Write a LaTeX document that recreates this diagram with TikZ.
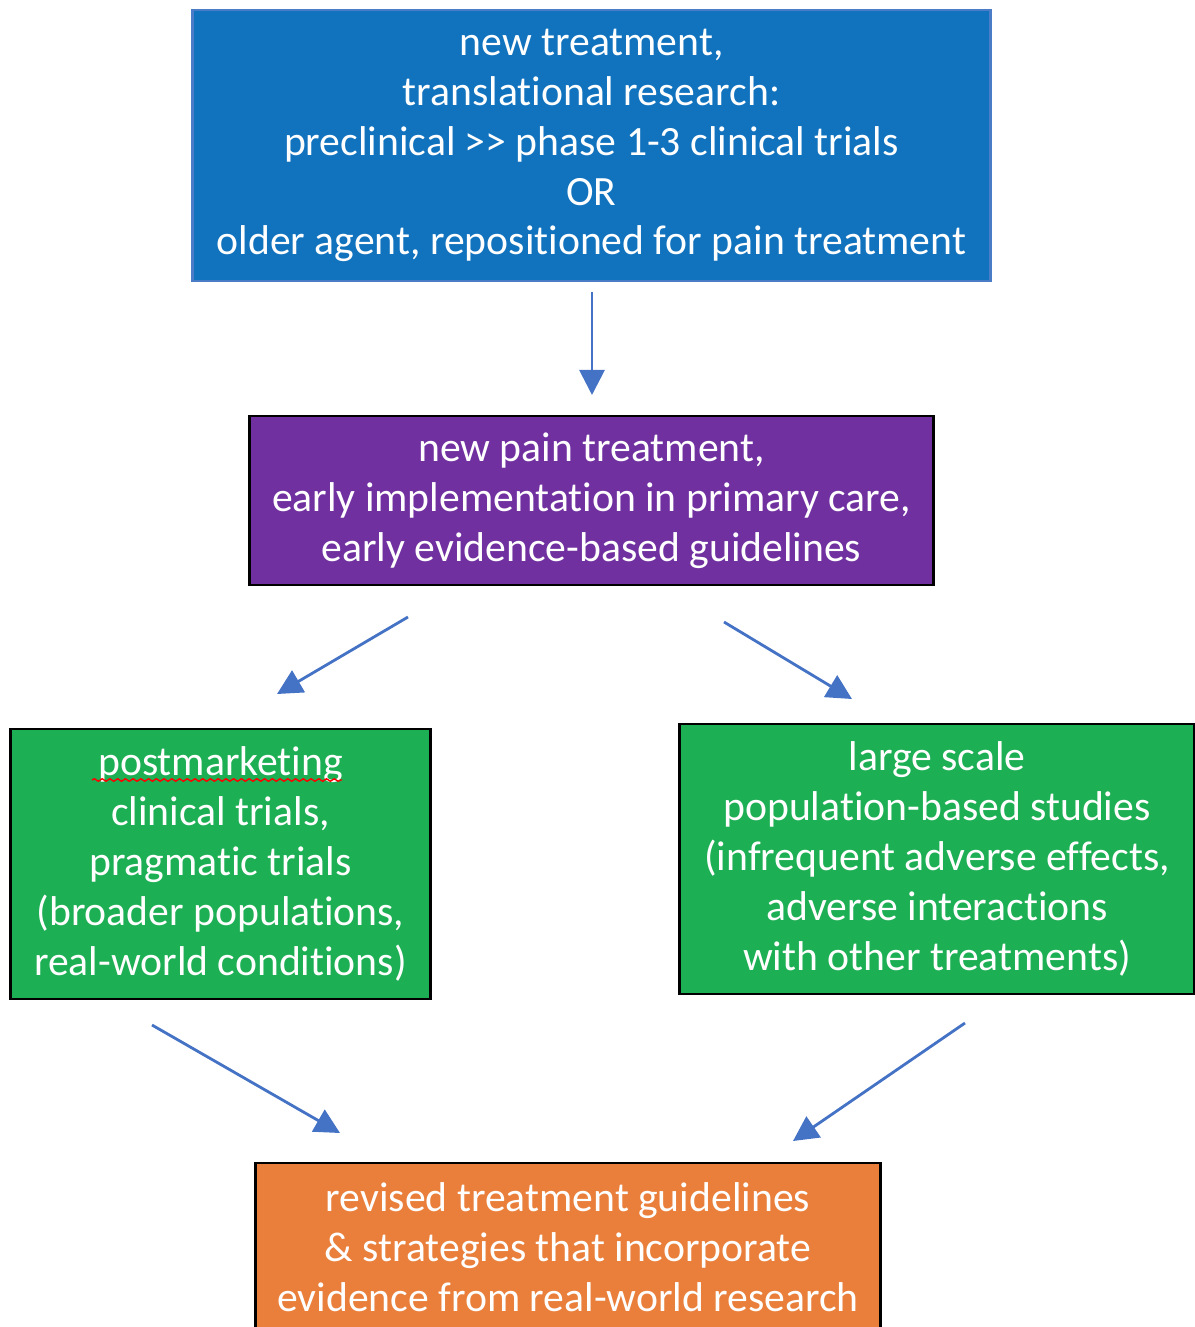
\documentclass[tikz,border=0pt]{standalone}
\usepackage{fontspec}
\setmainfont{Carlito}[Ligatures={NoCommon,NoContextual,NoRequired},RawFeature={-liga;-clig;-calt}]
\usetikzlibrary{arrows.meta,decorations.pathmorphing}
\definecolor{topblue}{HTML}{1172BE}
\definecolor{edgeblue}{HTML}{4A7CC8}
\definecolor{midpurple}{HTML}{7030A0}
\definecolor{studygreen}{HTML}{1DAF54}
\definecolor{endorange}{HTML}{E97F3B}
\definecolor{arrblue}{HTML}{4472C4}
\begin{document}
\begin{tikzpicture}[x=0.01cm,y=-0.01cm,
  box/.style={draw=black,line width=0.8pt,text=white,align=center,inner sep=0pt,
    font=\fontsize{11.85}{14.2}\selectfont},
  arr/.style={-{Triangle[length=0.25cm,width=0.25cm]},line width=0.8pt,arrblue}]
\useasboundingbox (0,0) rectangle (1195,1327);
% boxes
\path (591.5,145.5) node[box,draw=edgeblue,fill=topblue,minimum width=7.97cm,minimum height=2.71cm] (treat)
  {new treatment,\\translational research:\\preclinical >{}> phase 1-3 clinical trials\\OR\\older agent, repositioned for pain treatment};
\path (591.5,500.5) node[box,fill=midpurple,minimum width=6.83cm,minimum height=1.69cm] (early)
  {new pain treatment,\\early implementation in primary care,\\early evidence-based guidelines};
\path (220.5,864) node[box,fill=studygreen,minimum width=4.19cm,minimum height=2.7cm] (postmk)
  {postmarketing\\clinical trials,\\pragmatic trials\\(broader populations,\\real-world conditions)};
\path (937,859) node[box,fill=studygreen,minimum width=5.14cm,minimum height=2.7cm] (popstudy)
  {large scale\\population-based studies\\(infrequent adverse effects,\\adverse interactions\\with other treatments)};
\path (568,1247) node[box,fill=endorange,minimum width=6.24cm,minimum height=1.68cm] (revised)
  {revised treatment guidelines\\\& strategies that incorporate\\evidence from real-world research};
% spell-check squiggle
\draw[red,line width=0.4pt,decorate,decoration={snake,amplitude=0.35pt,segment length=2.2pt}] (92,780) -- (342,780);
% arrows
\coordinate (a1s) at (592,292); \coordinate (a1e) at (592,395);
\coordinate (a2s) at (408,617); \coordinate (a2e) at (277,694);
\coordinate (a3s) at (724,622); \coordinate (a3e) at (852,699);
\coordinate (a4s) at (152,1025); \coordinate (a4e) at (340,1133);
\coordinate (a5s) at (965,1023); \coordinate (a5e) at (793,1141);
\draw[arr] (a1s) -- (a1e);
\draw[arr] (a2s) -- (a2e);
\draw[arr] (a3s) -- (a3e);
\draw[arr] (a4s) -- (a4e);
\draw[arr] (a5s) -- (a5e);
\end{tikzpicture}
\end{document}
